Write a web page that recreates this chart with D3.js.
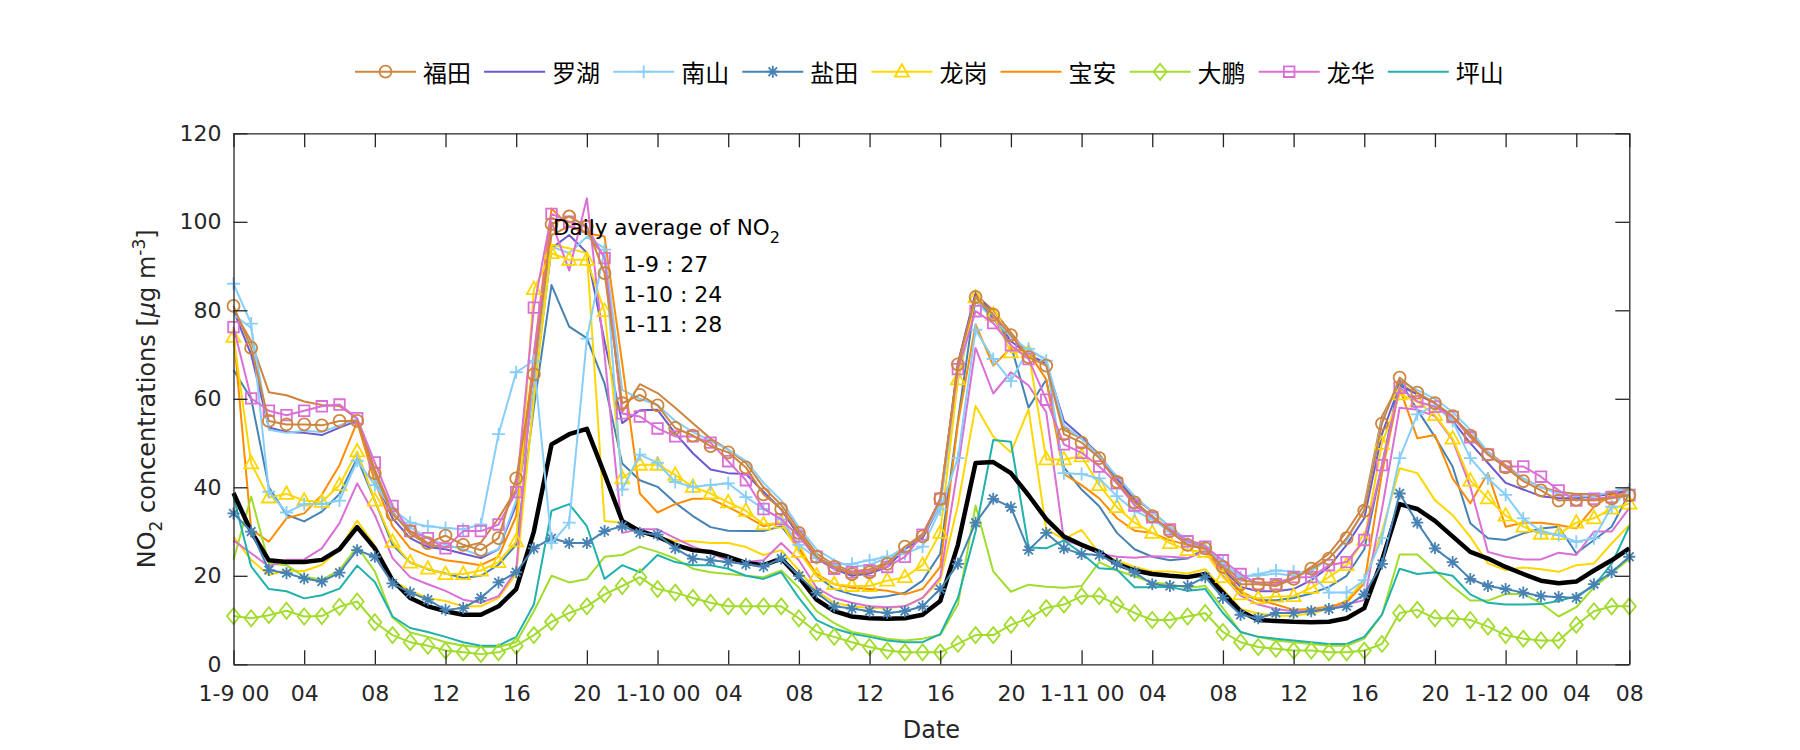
<!DOCTYPE html>
<html><head><meta charset="utf-8">
<script src="https://cdn.jsdelivr.net/npm/d3@7"></script>
<style>body{margin:0;background:#fff}svg{display:block}</style>
</head><body>
<svg id="chart" width="1800" height="750"></svg>
<script>
// ---------------- data ----------------
const tickHours = [0,4,8,12,16,20,24,28,32,36,40,44,48,52,56,60,64,68,72,76,79];
const tickLabels = ["1-9 00","04","08","12","16","20","1-10 00","04","08","12","16","20","1-11 00","04","08","12","16","20","1-12 00","04","08"];
const yTicks = [0,20,40,60,80,100,120];
const districts = ["福田","罗湖","南山","盐田","龙岗","宝安","大鹏","龙华","坪山"];
const dailyLabels = ["1-9 : 27","1-10 : 24","1-11 : 28"];

const futian1 = [81,71.5,55,54.2,54.2,54,55,55,43.2,33.9,30.1,27.4,29.1,27,25.8,28.5,42,65.5,99.5,101.2,98.9,88.4,59,60.9,58.5,53.4,51.7,
 49.3,47.9,44.5,38.4,35.1,29.7,24.3,22,20.4,20.8,22.7,26.6,28.9,37.4,67.8,83,79,74.4,69.4,67.5,52,50.1,46.6,41.2,36.6,33.5,
 30.1,27,26.2,22,18.1,18.1,17.7,19.3,21.6,23.9,28.5,34.7,54.4,64.8,61.4,59,56.1,51.7,47.4,44.5,41.4,39.3,37,37.2,37,37.5,38.2];
const futian2 = [80,73,61.5,60.8,59.4,58.6,58.4,55.5,44,34.5,29.5,27,26.5,26.5,27.5,33,39.5,
 68,97,99,97.5,92,57,63.3,61.3,58,54.5,
 51,48.5,45.5,40,36,30.5,25,22.5,21,21.5,23,26.5,29.5,37,68,83.5,80,75,70,68,53,51,47.5,42,37.5,34.5,
 31,28,27,22.5,19,18.5,18.5,19.5,22,25,30,36,56,63.5,61,59,56,52,48,45,42,40,39,38.5,38.5,38.5,39];
const luohu = [80,70,53.5,52.5,52.3,51.8,53.5,55,42,33,28.5,26.5,26,25,24,26,36,62,94,97,93,73,54.5,57.4,57.5,52.2,47.7,
 44,43.2,43,39,35,29,24,21.5,20,20.5,22,26,28.5,36,68,84,79,73,70,68,55,51.5,47,42,37,33,
 30,27,26,21.5,17.5,16.5,16.5,17,19,22,27,33,52,63,61,59,55,50,45.5,41,39.5,38,37.5,37.5,38,38.5,39.4];
const nanshan1 = [86,77,39,34.3,36.2,36.2,37,46,40.5,35.1,32,31.2,30.8,30.5,31.6,52,66,68.6,27.4,32,73.6,93.7,39.5,47.4,45.5,41.2,40.1,
 40.5,40.9,37.8,35.1,32.8,27,24,22.5,22.7,23.5,24.3,25,26.6,35,46.6,75.6,69,64,71.3,68.6,43.2,43,42,38,34.7,32.8,
 30,27.5,26.5,23,19.6,20.4,21.2,21,20.4,16.2,16.2,19,28.5,46.6,56.5,58.5,55,46.6,42,38.3,33,30,29.2,27.7,28.5,35.6,39.5];
const nanshan2 = [79,76,53,52.3,52.8,52.5,54,55.5,42,34,31,28.5,27,26,24.5,26,37,62,94.4,92.9,96.6,94,62,60,58.6,55,52.5,
 50.5,48.5,46,41,37,31,26,23.5,22,22.5,24,26.5,29,36,64,82,78,74,71,69,54,51,47,42.5,38,34.5,
 31,28,26.5,22.5,20,20,20.5,20,21,24,28,35,55,64,62,60,57,53,48,44.5,42,40,38.5,38,38,39,40];
const yantian1 = [34.1,30,21.3,20.6,19.4,18.7,20.7,25.8,24.3,18.3,16.2,14.6,12.3,12.7,15,18.5,20.8,26.2,28.5,27.4,27.4,30.1,31.2,29.7,29.3,26.2,23.9,
 23.5,23.1,22.6,22.1,23.9,20,16.2,13.1,12.6,12,11.6,12,13.1,17,22.7,32,37.4,35.5,25.8,29.7,26.2,24.9,24.7,22.7,20.8,18.1,
 17.7,17.7,19.7,15,11.2,10.4,11.6,11.6,12,12.5,13.1,15.8,22.7,38.6,32,26.2,23.1,19.3,17.7,17,16.2,15.4,15.2,15,18.1,20.8,24.3];
const yantian2 = [66.5,60,40,33.8,32.3,34.5,38.5,46.6,37,27,23,21.5,20.5,19.5,20,22.5,27,58,85.7,76.3,73.7,63.5,45.4,41.6,40.1,36.5,33.5,
 31,30.2,30.1,30.1,31.2,26.2,20,17,15.8,15,15.4,16.2,18.9,25,55,82.9,78.3,72.1,58,64.3,44.5,39.5,35.7,29.7,26,24.3,
 23.5,23.9,26.2,21,16,14.5,14.5,15,16,17.5,20,26,45,64.2,57.5,51.4,44.7,31.9,28.5,28.1,29.6,30.7,31.1,25.1,28.1,31.1,38.6];
const longgang1 = [74,45.4,37.7,38.5,37,36.7,40.5,48.1,37,27.7,23,21.6,20.4,20.4,21.2,23.1,27.8,84.8,92.9,91.4,91.4,79.8,42,45.1,45.1,42.8,40.1,
 38.6,36.6,34.7,31.6,32,25.4,20,18.1,17.7,17.7,18.9,19.7,22.4,29.7,64.4,82.9,79,70.5,70.5,46.3,46.3,47,40.5,35.5,32,29.7,
 27.4,25.8,25.4,19.7,15.8,14.9,15.3,15.4,17.3,19.7,22.4,28.1,49.8,61,59.4,56.3,51,41.5,37.5,33.6,31.1,29.5,29.4,32,33,35.2,36.3];
const longgang2 = [28.8,23.6,20.2,21.2,21.1,22.5,26,32.5,26.8,19,16.6,15,14.3,13.1,13.1,15,20.4,60,94.8,94,92.9,32.4,32,29.7,28.9,27.8,27.8,
 27.4,27.4,26.5,24.7,25.8,21.2,16.6,13.9,13.1,12.7,12.7,13.1,15,19,36,58.4,51.5,47.9,57.6,30.5,28.3,30.4,25,23.5,22,21,
 21,20.5,21.5,17,12.5,11.5,11,11,11.5,12.5,14.5,19,30,44.3,43.2,37.1,33.7,28.8,22.8,21.3,21.9,21.5,20.9,22.4,22.8,27.3,31.5];
const baoan = [75,30.5,27.7,33,34.1,38.3,45,54.8,41.2,31.2,26.2,24.5,23.5,23,22.4,24.3,33.5,70,103,99,97.4,96.7,68,38.6,34.3,36.2,37.4,
 37.4,35.5,33.5,31.2,32,26.2,20.4,18.1,17.3,17,16.6,15.8,17,22,54.4,76.8,67.5,71.5,70.5,64.4,43,40.5,37.5,33,30.2,29.7,
 28,27,26,21,16.5,14.5,13.5,12.3,12.5,13,14,18.3,43.2,62.4,51.1,51.8,42,36.4,43.2,31.1,32,32,31.5,30.7,35.6,38.3,38.3];
const dapeng1 = [10.9,10.4,11.1,12.1,10.8,10.9,13,14.2,9.5,6.6,5,4.2,3.1,2.7,2.3,2.7,4.2,6.6,9.6,11.6,13.1,15.8,17.7,19.7,17,16.2,15,
 13.9,13.1,13.1,13.1,13.1,10.4,7.3,6.2,5,3.9,3.1,2.7,2.7,2.7,4.6,6.6,6.6,8.9,10.4,12.7,13.5,15.4,15.4,13.5,11.6,10,
 10,10.8,11.6,7.3,5,3.9,3.5,3.1,3.1,2.7,2.7,3.1,4.6,11.6,12.3,10.4,10.4,10,8.5,6.6,5.8,5.4,5.4,8.9,12,13.1,13.1];
const dapeng2 = [23.6,37.9,22.8,22.4,19.8,19.1,21.3,26.6,21,10.6,7.2,6.2,5,4.2,3.9,3.9,5,12,20,18.5,19.3,24.3,24.7,26.6,25.4,23.9,21.6,
 20.8,20.4,20,19.7,21.2,17.3,12,9.3,7.3,6.6,5.8,5.4,5.8,6.6,13.5,35.9,21,16.4,18,17.5,17.3,17.7,23.1,21.2,19.9,18.5,
 18.1,17.3,17.7,12.7,7.3,6.2,5.4,5,4.6,4.2,4.2,5.8,11.2,24.8,24.8,21.2,17.6,14.4,14.4,15.9,15.9,13.8,10.8,12.9,17.4,20.6,23.8];
const longhua1 = [76.2,60.1,57.3,56.3,57.3,58.3,58.7,55.6,45.6,35.8,30.1,28.5,26.2,30.1,30.1,31.6,38.9,80.6,101.8,100,98.9,91.8,56.7,56,53.3,51.5,51.5,
 50.1,45.9,41.6,35.1,32.8,28.9,24.3,21.6,20.8,21.2,22,24.3,29.3,37.4,66.7,79.8,77.1,72.1,69,59.8,49.7,47.8,44.7,40.9,35.9,33.2,
 30.5,27.8,26.6,23.5,20.4,18.1,18.1,19.7,19.7,22.4,23.1,28.1,45,62.5,59.4,58.2,55.9,51.3,47.4,44.7,44.7,42.4,39.3,37,37.4,37.8,38.2];
const longhua2 = [28,25.1,22.1,23.6,23.7,26.2,31.9,40.9,33.7,24,19.7,18.1,16.6,14.6,13.9,15.4,21.2,70,100,89,105.3,70,29.7,30.5,30.5,28.5,26.6,
 25.1,23.5,23.1,23.5,27.4,23.5,17.3,15,13.9,13.1,12.9,13.1,15,19.7,44.3,71.5,61.2,66,63,57,28.1,26.8,25,24.3,24.1,24.4,
 24.3,24,25.5,20,15.5,13.5,12.5,12,12,12.5,13.5,14.5,35,58,57.5,56.1,50.7,40.1,25.4,24.3,23.7,23.7,25.2,24.7,30,30,35.3];
const pingshan = [37.9,22.1,17,16.5,14.9,15.6,17.1,22.3,18.6,10.8,8.2,7.3,6.2,5,4.2,4.2,6.2,13.5,34.7,36.2,31.2,19.3,22.4,20.8,24.7,23.1,22.4,
 22.4,21.6,20,19.3,20.8,15,10,8.1,6.9,6.2,5.4,5,5,6.8,15,30,50.7,50.3,26.4,26.2,28,25.1,21.7,21.4,17.4,17.4,
 17.5,16.6,17,11.6,7.3,6.2,5.8,5.4,5,4.6,4.6,6.2,11.2,21.6,20.4,20.8,20,15.8,13.9,13.5,13.5,13.6,14.3,15.4,17.7,22.7,31.2];
const meanNO2 = [38.7,30,23.5,23.1,23.1,23.6,26,31,26.2,19,15,13.1,12,11.2,11.2,13.1,17,30,49.7,52,53.2,43,32.4,30.1,28.9,27,25.8,
 25.4,24.3,22.9,22.4,23.9,19.7,14.6,12,10.8,10.4,10.3,10.4,11.2,14.3,27,45.5,45.7,43.2,38.2,32.8,28.9,27,25.4,22.7,21.2,20.4,
 20,19.7,20.4,16.2,12,10,9.8,9.6,9.5,9.6,10.4,12.7,23.5,36.2,35.1,32.4,28.9,25.4,23.9,22,20.4,18.9,18.3,18.7,21.2,23.5,26.2];

// ---------------- styles ----------------
const COL = {"福田":"#CD853F","罗湖":"#6A5ACD","南山":"#87CEFA","盐田":"#4682B4","龙岗":"#FFD700",
             "宝安":"#FF8C00","大鹏":"#A2DC2C","龙华":"#DA70D6","坪山":"#20B2AA"};
const MARK = {"福田":"circle","罗湖":null,"南山":"plus","盐田":"star","龙岗":"tri","宝安":null,"大鹏":"diamond","龙华":"square","坪山":null};

const plainLines = [
  {d:futian2, k:"福田"},{d:luohu,k:"罗湖"},{d:nanshan2,k:"南山"},{d:yantian2,k:"盐田"},{d:longgang2,k:"龙岗"},
  {d:baoan,k:"宝安"},{d:dapeng2,k:"大鹏"},{d:longhua2,k:"龙华"},{d:pingshan,k:"坪山"}];
const markedLines = [
  {d:dapeng1,k:"大鹏"},{d:yantian1,k:"盐田"},{d:longgang1,k:"龙岗"},{d:nanshan1,k:"南山"},{d:longhua1,k:"龙华"},{d:futian1,k:"福田"}];

const svg = d3.select("#chart");
const L = 233.5, R = 1629.3, T = 133.3, B = 664.3;
const x = d3.scaleLinear().domain([0,79]).range([L,R]);
const y = d3.scaleLinear().domain([0,120]).range([B,T]);
const AX = "#262626";
const FONT = "'DejaVu Sans', sans-serif";

function markerPath(type){
  switch(type){
    case "circle": return "M-6,0a6,6 0 1,0 12,0a6,6 0 1,0 -12,0Z";
    case "plus": return "M-6.5,0H6.5M0,-6.5V6.5";
    case "star": return "M-6,0H6M0,-6V6M-4.3,-4.3L4.3,4.3M-4.3,4.3L4.3,-4.3";
    case "tri": return "M0,-7.5L7,5L-7,5Z";
    case "diamond": return "M0,-8L6.5,0L0,8L-6.5,0Z";
    case "square": return "M-5.3,-5.3H5.3V5.3H-5.3Z";
  }
  return null;
}

const line = d3.line().x((d,i)=>x(i)).y(d=>y(d));
const plot = svg.append("g");

plainLines.forEach(s=>{
  plot.append("path").attr("d", line(s.d)).attr("fill","none")
    .attr("stroke", COL[s.k]).attr("stroke-width",2).attr("stroke-linejoin","round");
});
plot.append("path").attr("d", line(meanNO2)).attr("fill","none")
  .attr("stroke","#000").attr("stroke-width",4.5).attr("stroke-linejoin","round");
markedLines.forEach(s=>{
  const g = plot.append("g");
  g.append("path").attr("d", line(s.d)).attr("fill","none")
    .attr("stroke", COL[s.k]).attr("stroke-width",2).attr("stroke-linejoin","round");
  g.selectAll("path.m").data(s.d).join("path").attr("class","m")
    .attr("d", markerPath(MARK[s.k]))
    .attr("transform",(d,i)=>`translate(${x(i)},${y(d)})`)
    .attr("fill","none").attr("stroke",COL[s.k]).attr("stroke-width",1.8);
});

// ---------------- axes ----------------
function styleAxis(g){
  g.selectAll(".domain").attr("stroke",AX).attr("stroke-width",1.3);
  g.selectAll(".tick line").attr("stroke",AX).attr("stroke-width",1.3);
  g.selectAll("text").attr("fill",AX).style("font-family",FONT).style("font-size","22px");
}
const xb = svg.append("g").attr("transform",`translate(0,${B})`)
  .call(d3.axisBottom(x).tickValues(tickHours).tickFormat((d,i)=>tickLabels[i]).tickSizeInner(-14).tickSizeOuter(0).tickPadding(21));
styleAxis(xb);
xb.selectAll("text").attr("dy","0.71em").attr("y",21);
const xt = svg.append("g").attr("transform",`translate(0,${T})`)
  .call(d3.axisTop(x).tickValues(tickHours).tickFormat("").tickSizeInner(-14).tickSizeOuter(0));
styleAxis(xt);
const yl = svg.append("g").attr("transform",`translate(${L},0)`)
  .call(d3.axisLeft(y).tickValues(yTicks).tickSizeInner(-14).tickSizeOuter(0).tickPadding(12));
styleAxis(yl);
const yr = svg.append("g").attr("transform",`translate(${R},0)`)
  .call(d3.axisRight(y).tickValues(yTicks).tickFormat("").tickSizeInner(-14).tickSizeOuter(0));
styleAxis(yr);

// axis titles
svg.append("text").attr("x",(L+R)/2).attr("y",738).attr("text-anchor","middle")
  .style("font-family",FONT).style("font-size","24px").attr("fill",AX).text("Date");
const yt = svg.append("text").attr("transform",`translate(155,${(T+B)/2}) rotate(-90)`)
  .attr("text-anchor","middle").style("font-family",FONT).style("font-size","24px").attr("fill",AX);
yt.append("tspan").text("NO");
yt.append("tspan").attr("dy",7).style("font-size","17px").text("2");
yt.append("tspan").attr("dy",-7).text(" concentrations [");
yt.append("tspan").style("font-style","italic").text("μ");
yt.append("tspan").text("g m");
yt.append("tspan").attr("dy",-10).style("font-size","17px").text("-3");
yt.append("tspan").attr("dy",10).text("]");

// annotation
const ann = svg.append("text").attr("x",553).attr("y",235)
  .style("font-family",FONT).style("font-size","21.5px").attr("fill","#000");
ann.append("tspan").text("Daily average of NO");
ann.append("tspan").attr("dy",8).style("font-size","16px").text("2");
dailyLabels.forEach((t,i)=>{
  svg.append("text").attr("x",623).attr("y",271.7 + i*30.2)
    .style("font-family",FONT).style("font-size","22px").attr("fill","#000").text(t);
});

// legend
const leg = svg.append("g");
districts.forEach((k,i)=>{
  const x0 = 355 + i*129.1, yy = 71.7;
  leg.append("line").attr("x1",x0).attr("x2",x0+61).attr("y1",yy).attr("y2",yy)
    .attr("stroke",COL[k]).attr("stroke-width",2);
  if (MARK[k]) leg.append("path").attr("d",markerPath(MARK[k]))
    .attr("transform",`translate(${x0+30.5},${yy})`).attr("fill","none")
    .attr("stroke",COL[k]).attr("stroke-width",1.8);
  leg.append("text").attr("x",x0+68).attr("y",yy).attr("dominant-baseline","central")
    .style("font-family","'Noto Sans CJK SC', sans-serif").style("font-size","24px").attr("fill","#000").text(k);
});
</script>
</body></html>
